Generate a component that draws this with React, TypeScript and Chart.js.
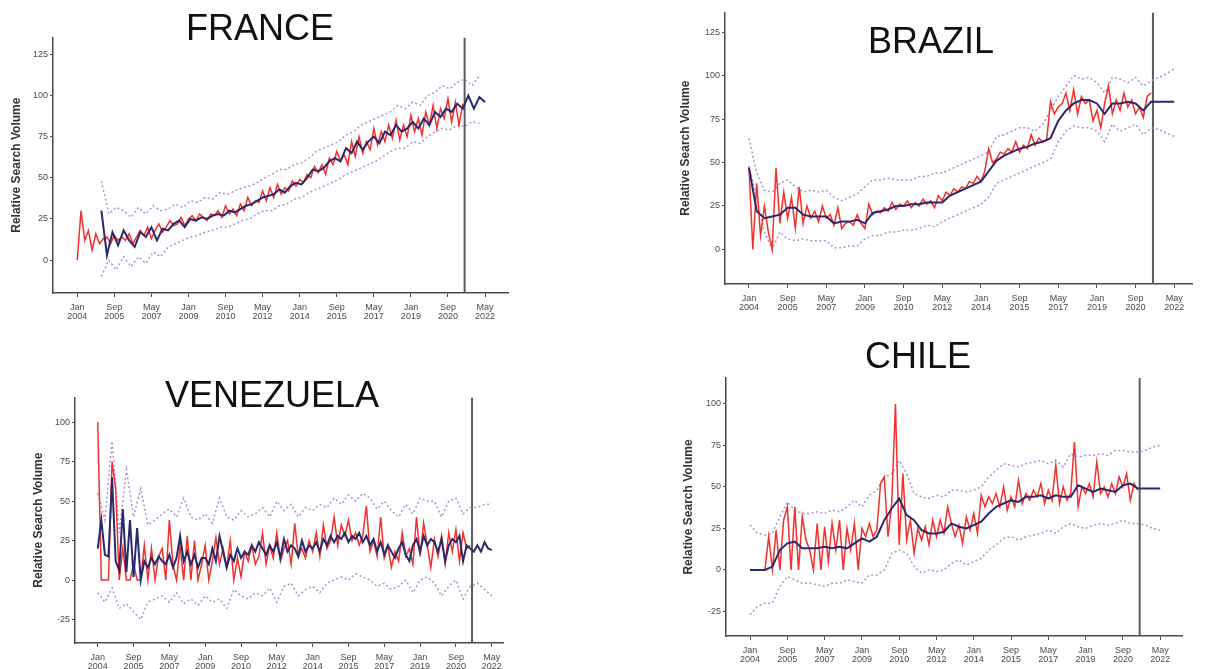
import React, { useEffect, useRef } from "react";
import { Chart, registerables } from "chart.js";

Chart.register(...registerables);

const FONT = "'Liberation Sans', Arial, Helvetica, sans-serif";

// ---- shared axis data ----
const X_TICK_MONTHS = [0, 20, 40, 60, 80, 100, 120, 140, 160, 180, 200, 220];
const X_TICK_LABELS = [
  ["Jan", "2004"], ["Sep", "2005"], ["May", "2007"], ["Jan", "2009"],
  ["Sep", "2010"], ["May", "2012"], ["Jan", "2014"], ["Sep", "2015"],
  ["May", "2017"], ["Jan", "2019"], ["Sep", "2020"], ["May", "2022"],
];
const CUTOFF_MONTH = 209;
const Y_TITLE = "Relative Search Volume";

// ---- FRANCE ----
const FR_ACTUAL_START = 0, FR_ACTUAL_STEP = 2;
const FR_ACTUAL = [
  0, 30, 12, 18, 6, 16, 10, 13, 14, 10,
  15, 12, 14, 12, 16, 10, 14, 18, 15, 20,
  13, 18, 22, 17, 20, 24, 21, 22, 26, 21,
  25, 27, 24, 28, 26, 24, 28, 27, 30, 26,
  33, 28, 31, 27, 34, 30, 38, 33, 36, 35,
  42, 36, 44, 38, 46, 40, 44, 42, 48, 45,
  49, 47, 52, 50, 57, 53, 58, 52, 62, 58,
  66, 60, 64, 58, 72, 63, 75, 65, 72, 67,
  80, 70, 78, 72, 82, 74, 85, 73, 82, 75,
  88, 78, 86, 76, 90, 82, 94, 80, 92, 86,
  98, 84, 96, 82, 95,
];
const FR_FIT_START = 13, FR_FIT_STEP = 3;
const FR_FIT = [
  30, 3, 17, 9, 18, 12, 8, 17, 14, 20,
  12, 19, 18, 22, 24, 20, 25, 24, 26, 25,
  27, 28, 27, 30, 29, 31, 33, 34, 36, 38,
  39, 40, 43, 41, 45, 47, 46, 50, 55, 54,
  56, 60, 62, 60, 68, 65, 72, 67, 72, 75,
  71, 78, 76, 82, 78, 80, 84, 80, 86, 82,
  90, 87, 92, 90, 95, 92, 100, 92, 99, 96,
];
const FR_BOUND_START = 13, FR_BOUND_STEP = 4;
const FR_UPPER = [
  48, 28, 32, 30, 26, 32, 28, 33, 30, 31,
  34, 32, 36, 35, 38, 37, 41, 40, 42, 44,
  45, 47, 50, 52, 55, 55, 58, 59, 62, 66,
  68, 70, 72, 76, 78, 82, 84, 86, 88, 90,
  94, 92, 96, 94, 100, 102, 106, 104, 108, 110,
  106, 112,
];
const FR_LOWER = [
  -10, 0, -6, 2, -4, 2, -2, 5, 2, 8,
  10, 12, 14, 15, 17, 18, 20, 20, 22, 24,
  25, 28, 30, 30, 33, 34, 37, 38, 41, 43,
  45, 47, 49, 52, 54, 56, 58, 60, 63, 66,
  68, 68, 72, 71, 75, 78, 80, 79, 82, 81,
  84, 83,
];

// ---- BRAZIL ----
const BR_ACTUAL_START = 0, BR_ACTUAL_STEP = 2;
const BR_ACTUAL = [
  47, 0, 38, 8, 25, 10, 0, 47, 15, 33,
  18, 30, 12, 36, 15, 25, 18, 22, 16, 25,
  18, 20, 14, 24, 12, 15, 16, 14, 20, 15,
  12, 26, 20, 22, 21, 24, 22, 27, 23, 26,
  25, 28, 24, 27, 25, 29, 26, 28, 24, 31,
  28, 33, 31, 35, 33, 36, 35, 39, 38, 42,
  39, 45, 58, 50, 52, 56, 55, 58, 56, 62,
  56, 60, 58, 66, 60, 64, 62, 63, 85, 78,
  82, 84, 90, 80, 92, 78, 88, 84, 86, 74,
  80, 70, 84, 94, 78, 86, 80, 90, 82, 86,
  78, 82, 76, 88, 90,
];
const BR_FIT_START = 0, BR_FIT_STEP = 4;
const BR_FIT = [
  47, 22, 18, 19, 20, 24, 24, 20, 19, 19,
  19, 15, 16, 16, 17, 15, 21, 22, 23, 25,
  25, 26, 26, 27, 27, 27, 31, 33, 35, 37,
  39, 45, 51, 54, 56, 58, 59, 61, 62, 64,
  74, 80, 84, 86, 86, 84, 78, 84, 84, 85,
  84, 80, 85, 85, 85, 85,
];
const BR_BOUND_START = 0, BR_BOUND_STEP = 4;
const BR_UPPER = [
  64, 44, 34, 33, 38, 40, 36, 33, 34, 33,
  34, 30, 28, 30, 32, 36, 40, 40, 41, 40,
  40, 40, 42, 42, 44, 44, 46, 48, 50, 52,
  54, 56, 65, 66, 68, 70, 70, 68, 72, 80,
  88, 94, 100, 98, 99, 96, 90, 99, 98, 96,
  99, 94, 97, 99, 101, 104,
];
const BR_LOWER = [
  48, 30, 10, 0, 10, 6, 5, 6, 5, 5,
  5, 1, 1, 2, 2, 6, 8, 8, 10, 10,
  11, 11, 12, 14, 13, 16, 18, 20, 22, 24,
  26, 30, 38, 40, 42, 44, 46, 48, 50, 52,
  62, 68, 71, 70, 70, 68, 62, 72, 68, 70,
  72, 66, 70, 69, 67, 65,
];

// ---- VENEZUELA ----
const VE_ACTUAL_START = 0, VE_ACTUAL_STEP = 2;
const VE_ACTUAL = [
  100, 0, 0, 0, 75, 58, 0, 20, 0, 0,
  10, 0, 0, 22, 0, 20, 0, 15, 20, 0,
  38, 10, 0, 22, 0, 28, 0, 25, 0, 10,
  22, 0, 12, 27, 10, 20, 8, 25, 0, 14,
  2, 18, 12, 22, 10, 15, 30, 10, 22, 14,
  30, 12, 20, 25, 10, 36, 15, 20, 14, 25,
  18, 30, 15, 35, 20, 25, 40, 22, 35, 28,
  38, 25, 30, 22, 28, 47, 18, 25, 15, 40,
  14, 22, 8, 18, 12, 30, 15, 20, 10, 40,
  15, 36, 22, 8, 26, 15, 28, 10, 30, 18,
  32, 12, 30, 20, 22,
];
const VE_FIT_START = 0, VE_FIT_STEP = 2;
const VE_FIT = [
  20, 38, 16, 15, 65, 12, 6, 45, 5, 38,
  2, 33, 0, 12, 8, 14, 10, 15, 12, 10,
  16, 8, 14, 28, 12, 18, 10, 16, 8, 14,
  14, 10, 20, 12, 28, 18, 8, 16, 12, 20,
  14, 18, 16, 22, 18, 24, 20, 16, 22, 18,
  24, 14, 26, 18, 22, 20, 15, 25, 18, 22,
  20, 24, 18, 26, 22, 28, 24, 28, 26, 30,
  24, 28, 26, 30, 24, 28, 22, 26, 18, 24,
  16, 22, 18, 14, 20, 24, 16, 12, 22, 26,
  18, 28, 22, 26, 24, 18, 26, 12, 22, 26,
  24, 28, 12, 22, 20, 18, 22, 18, 24, 20,
  19,
];
const VE_BOUND_START = 0, VE_BOUND_STEP = 4;
const VE_UPPER = [
  55, 38, 88, 30, 70, 40, 58, 35, 38, 42,
  45, 40, 52, 40, 38, 42, 36, 52, 40, 38,
  44, 40, 42, 46, 40, 50, 44, 48, 40, 46,
  44, 48, 46, 52, 48, 54, 50, 55, 52, 45,
  50, 44, 40, 48, 42, 52, 50, 50, 40, 50,
  52, 42, 46, 46, 48, 48,
];
const VE_LOWER = [
  -8, -14, -5, -18, -15, -20, -25, -14, -12, -10,
  -14, -8, -15, -12, -16, -10, -14, -12, -18, -6,
  -10, -12, -8, -10, -5, -14, -4, -2, -10, -6,
  -4, -8, -2, 0, 2, 0, 4, 2, 0, -4,
  -2, -6, -4, 0, -8, 0, 2, -2, -10, -4,
  0, -12, -4, -2, -6, -10,
];

// ---- CHILE ----
const CL_ACTUAL_START = 0, CL_ACTUAL_STEP = 2;
const CL_ACTUAL = [
  0, 0, 0, 0, 0, 20, 0, 24, 0, 30,
  38, 0, 38, 0, 32, 18, 12, 0, 28, 0,
  26, 5, 28, 12, 30, 0, 25, 12, 28, 0,
  25, 20, 28, 20, 24, 52, 56, 20, 40, 100,
  15, 58, 18, 30, 10, 25, 18, 26, 15, 30,
  20, 30, 22, 38, 28, 20, 27, 16, 32, 24,
  34, 22, 45, 38, 44, 40, 46, 38, 50, 36,
  44, 38, 54, 40, 46, 42, 48, 44, 52, 40,
  48, 42, 63, 40, 50, 42, 46, 77, 38, 50,
  46, 52, 44, 65, 46, 50, 44, 52, 46, 56,
  50, 58, 42, 52, 48,
];
const CL_FIT_START = 0, CL_FIT_STEP = 4;
const CL_FIT = [
  0, 0, 0, 2, 12, 16, 17, 13, 13, 13,
  14, 13, 14, 13, 16, 19, 17, 20, 30, 37,
  43, 33, 30, 24, 22, 22, 23, 28, 26, 25,
  27, 29, 34, 38, 40, 42, 41, 44, 44, 45,
  43, 45, 44, 44, 51, 49, 47, 49, 48, 47,
  51, 52, 49, 49, 49, 49,
];
const CL_BOUND_START = 0, CL_BOUND_STEP = 4;
const CL_UPPER = [
  27, 22, 21, 22, 32, 41, 36, 34, 34, 35,
  34, 36, 35, 38, 42, 38, 45, 48, 56, 58,
  66, 58, 46, 44, 43, 45, 44, 48, 48, 47,
  48, 50, 56, 60, 64, 63, 62, 64, 65, 66,
  64, 66, 62, 70, 68, 69, 69, 70, 69, 72,
  72, 71, 71, 72, 74, 75,
];
const CL_LOWER = [
  -27, -22, -20, -20, -10, -4, -6, -8, -8, -9,
  -10, -8, -8, -6, -7, -8, -3, -3, 0, 10,
  12, 10, 2, -2, 0, -1, 0, 4, 6, 3,
  5, 7, 12, 15, 19, 20, 18, 20, 21, 22,
  24, 22, 26, 28, 26, 25, 27, 28, 27, 28,
  30, 28, 28, 27, 25, 24,
];

// ---- axis ranges / ticks ----
const FR_Y_TICKS = [0, 25, 50, 75, 100, 125];
const BR_Y_TICKS = [0, 25, 50, 75, 100, 125];
const VE_Y_TICKS = [-25, 0, 25, 50, 75, 100];
const CL_Y_TICKS = [-25, 0, 25, 50, 75, 100];

const PANELS = [
  {
    key: "fr", title: "FRANCE",
    actual: [FR_ACTUAL, FR_ACTUAL_START, FR_ACTUAL_STEP],
    fit: [FR_FIT, FR_FIT_START, FR_FIT_STEP],
    upper: [FR_UPPER, FR_BOUND_START, FR_BOUND_STEP],
    lower: [FR_LOWER, FR_BOUND_START, FR_BOUND_STEP],
    yTicks: FR_Y_TICKS, yMin: -20, yMax: 135.3, xMin: -13.1, xMax: 232.4,
    box: { left: 0, top: 30, width: 520, height: 300, yAxisW: 53, xAxisH: 37, padTop: 7, padRight: 12, titlePad: 9 },
    titlePos: { cx: 260, top: 9.5 },
  },
  {
    key: "br", title: "BRAZIL",
    actual: [BR_ACTUAL, BR_ACTUAL_START, BR_ACTUAL_STEP],
    fit: [BR_FIT, BR_FIT_START, BR_FIT_STEP],
    upper: [BR_UPPER, BR_BOUND_START, BR_BOUND_STEP],
    lower: [BR_LOWER, BR_BOUND_START, BR_BOUND_STEP],
    yTicks: BR_Y_TICKS, yMin: -19.9, yMax: 136.4, xMin: -12.4, xMax: 229.2,
    box: { left: 670, top: 5, width: 542, height: 320, yAxisW: 55, xAxisH: 41, padTop: 7, padRight: 20, titlePad: 8 },
    titlePos: { cx: 931, top: 22.5 },
  },
  {
    key: "ve", title: "VENEZUELA",
    actual: [VE_ACTUAL, VE_ACTUAL_START, VE_ACTUAL_STEP],
    fit: [VE_FIT, VE_FIT_START, VE_FIT_STEP],
    upper: [VE_UPPER, VE_BOUND_START, VE_BOUND_STEP],
    lower: [VE_LOWER, VE_BOUND_START, VE_BOUND_STEP],
    yTicks: VE_Y_TICKS, yMin: -39.9, yMax: 115.8, xMin: -12.7, xMax: 226.3,
    box: { left: 20, top: 390, width: 500, height: 279, yAxisW: 55, xAxisH: 26, padTop: 7, padRight: 17, titlePad: 11 },
    titlePos: { cx: 272, top: 376.5 },
  },
  {
    key: "cl", title: "CHILE",
    actual: [CL_ACTUAL, CL_ACTUAL_START, CL_ACTUAL_STEP],
    fit: [CL_FIT, CL_FIT_START, CL_FIT_STEP],
    upper: [CL_UPPER, CL_BOUND_START, CL_BOUND_STEP],
    lower: [CL_LOWER, CL_BOUND_START, CL_BOUND_STEP],
    yTicks: CL_Y_TICKS, yMin: -39.8, yMax: 115.6, xMin: -12.9, xMax: 231.7,
    box: { left: 670, top: 370, width: 542, height: 299, yAxisW: 56, xAxisH: 33, padTop: 8, padRight: 30, titlePad: 11 },
    titlePos: { cx: 918, top: 337.5 },
  },
];

const RED = "#f2302e";
const NAVY = "#282a6c";
const BOUND = "#a895d4";
const AXIS = "#4a4a4a";
const CUTOFF = "#5c5c5c";

function toPoints(spec: any[]) {
  const [values, start, step] = spec;
  return values.map((v: number, i: number) => ({ x: start + i * step, y: v }));
}

function Panel({ p }: { p: any }) {
  const ref = useRef<HTMLCanvasElement | null>(null);
  useEffect(() => {
    const b = p.box;
    const chart = new Chart(ref.current as HTMLCanvasElement, {
      type: "line",
      data: {
        datasets: [
          { data: toPoints(p.fit), borderColor: NAVY, borderWidth: 2, pointRadius: 0, order: 0 },
          { data: toPoints(p.actual), borderColor: RED, borderWidth: 1.5, pointRadius: 0, order: 1 },
          { data: toPoints(p.upper), borderColor: BOUND, borderWidth: 1.5, borderDash: [2, 2.5], pointRadius: 0, order: 2 },
          { data: toPoints(p.lower), borderColor: BOUND, borderWidth: 1.5, borderDash: [2, 2.5], pointRadius: 0, order: 3 },
          {
            data: [{ x: CUTOFF_MONTH, y: p.yMin }, { x: CUTOFF_MONTH, y: p.yMax }],
            borderColor: CUTOFF, borderWidth: 2, pointRadius: 0, order: 4,
          },
        ],
      },
      options: {
        animation: false,
        responsive: false,
        maintainAspectRatio: false,
        events: [],
        layout: { padding: { top: b.padTop, right: b.padRight, left: 0, bottom: 0 } },
        plugins: { legend: { display: false }, tooltip: { enabled: false }, title: { display: false } },
        elements: { line: { tension: 0 }, point: { radius: 0 } },
        scales: {
          x: {
            type: "linear",
            min: p.xMin,
            max: p.xMax,
            afterBuildTicks: (axis: any) => { axis.ticks = X_TICK_MONTHS.map((v) => ({ value: v })); },
            afterFit: (axis: any) => { axis.height = b.xAxisH; },
            ticks: {
              autoSkip: false, maxRotation: 0, minRotation: 0, padding: 6,
              color: "#4a4a4a",
              font: { size: 9, family: FONT, lineHeight: 1.0 },
              callback: (v: any) => {
                const i = X_TICK_MONTHS.indexOf(Number(v));
                return i >= 0 ? X_TICK_LABELS[i] : "";
              },
            },
            grid: { display: true, drawOnChartArea: false, drawTicks: true, tickLength: 4, color: AXIS, lineWidth: 1 },
            border: { display: true, color: AXIS, width: 1.5 },
          },
          y: {
            type: "linear",
            min: p.yMin,
            max: p.yMax,
            afterBuildTicks: (axis: any) => { axis.ticks = p.yTicks.map((v: number) => ({ value: v })); },
            afterFit: (axis: any) => { axis.width = b.yAxisW; },
            ticks: {
              padding: 2,
              color: "#4a4a4a",
              font: { size: 9, family: FONT },
              callback: (v: any) => String(v),
            },
            grid: { display: true, drawOnChartArea: false, drawTicks: true, tickLength: 3, color: AXIS, lineWidth: 1 },
            border: { display: true, color: AXIS, width: 1.5 },
            title: {
              display: true,
              text: Y_TITLE,
              color: "#333",
              font: { size: 12, weight: "bold", family: FONT },
              padding: { top: b.titlePad, bottom: 0 },
            },
          },
        },
      } as any,
    });
    return () => chart.destroy();
  }, [p]);
  const b = p.box;
  return (
    <canvas
      ref={ref}
      width={b.width}
      height={b.height}
      style={{ position: "absolute", left: b.left, top: b.top, width: b.width, height: b.height }}
    />
  );
}

export default function App() {
  return (
    <div style={{ position: "absolute", left: 0, top: 0, width: 1212, height: 669, background: "#fff", overflow: "hidden" }}>
      {PANELS.map((p) => <Panel key={p.key} p={p} />)}
      {PANELS.map((p) => (
        <div
          key={p.key + "-t"}
          style={{
            position: "absolute",
            left: p.titlePos.cx,
            top: p.titlePos.top,
            transform: "translateX(-50%)",
            fontFamily: FONT,
            fontSize: 36,
            lineHeight: "36px",
            color: "#111",
            whiteSpace: "nowrap",
            zIndex: 2,
          }}
        >
          {p.title}
        </div>
      ))}
    </div>
  );
}
